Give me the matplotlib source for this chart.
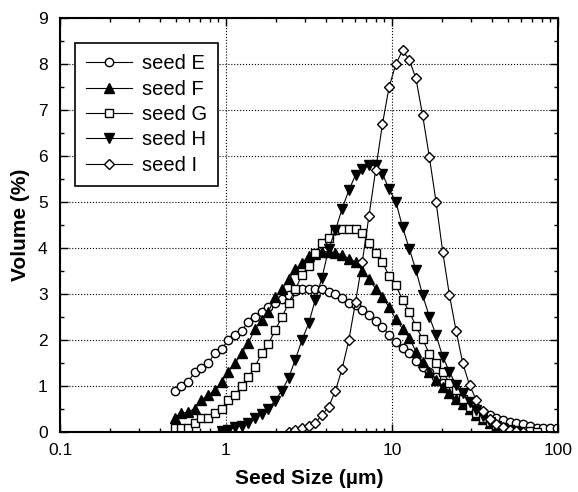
import numpy as np
import matplotlib.pyplot as plt
from matplotlib.ticker import FixedLocator, NullFormatter, MultipleLocator

plt.rcParams['font.family'] = ['Liberation Sans', 'DejaVu Sans']

# tamaños de partícula (µm), rejilla común del analizador
size_bins = [0.490, 0.538, 0.590, 0.648, 0.711, 0.780, 0.856, 0.940, 1.031, 1.132,
             1.242, 1.363, 1.496, 1.642, 1.802, 1.978, 2.171, 2.382, 2.615, 2.870,
             3.149, 3.456, 3.793, 4.163, 4.569, 5.015, 5.504, 6.040, 6.629, 7.276,
             7.985, 8.764, 9.618, 10.56, 11.59, 12.72, 13.96, 15.32, 16.81, 18.45,
             20.25, 22.22, 24.39, 26.77, 29.38, 32.24, 35.39, 38.84, 42.62, 46.78,
             51.34, 56.35, 61.84, 67.87, 74.49, 81.75, 89.72, 98.47]

# volumen (%) de cada semilla, con el índice del primer bin
seed_E_start = 0
seed_E = [0.90, 1.00, 1.09, 1.30, 1.40, 1.49, 1.71, 1.80, 2.00, 2.11,
          2.20, 2.40, 2.51, 2.62, 2.71, 2.80, 2.89, 2.98, 3.07, 3.10,
          3.10, 3.10, 3.10, 3.05, 3.00, 2.91, 2.81, 2.76, 2.65, 2.54,
          2.42, 2.29, 2.11, 1.95, 1.82, 1.72, 1.55, 1.42, 1.31, 1.20,
          1.07, 0.91, 0.77, 0.66, 0.60, 0.51, 0.44, 0.37, 0.30, 0.26,
          0.22, 0.20, 0.17, 0.12, 0.09, 0.09, 0.09, 0.09]

seed_F_start = 0
seed_F = [0.30, 0.41, 0.43, 0.51, 0.70, 0.80, 0.91, 1.09, 1.31, 1.49,
          1.71, 1.93, 2.25, 2.43, 2.62, 2.93, 3.10, 3.32, 3.54, 3.68,
          3.82, 3.88, 3.92, 3.92, 3.90, 3.85, 3.77, 3.70, 3.51, 3.32,
          3.12, 2.93, 2.72, 2.45, 2.25, 2.05, 1.75, 1.53, 1.31, 1.13,
          0.98, 0.84, 0.72, 0.60, 0.49, 0.38, 0.28, 0.19, 0.11, 0.05,
          0.02, 0.0]

seed_G_start = 0
seed_G = [0.09, 0.09, 0.09, 0.19, 0.30, 0.30, 0.41, 0.49, 0.70, 0.80,
          1.00, 1.20, 1.42, 1.71, 1.91, 2.22, 2.49, 2.80, 3.10, 3.41,
          3.61, 3.90, 4.10, 4.21, 4.39, 4.41, 4.41, 4.41, 4.32, 4.10,
          3.90, 3.70, 3.39, 3.19, 2.88, 2.62, 2.30, 2.02, 1.70, 1.49,
          1.31, 1.07, 0.91, 0.71, 0.55, 0.42, 0.30, 0.21, 0.15, 0.10,
          0.06, 0.04, 0.03, 0.02, 0.0]

seed_H_start = 7
seed_H = [0.02, 0.05, 0.10, 0.14, 0.20, 0.30, 0.40, 0.51, 0.68, 0.90,
          1.17, 1.57, 2.00, 2.36, 2.88, 3.36, 3.99, 4.39, 4.86, 5.26,
          5.59, 5.72, 5.80, 5.80, 5.62, 5.28, 5.01, 4.46, 3.99, 3.52,
          2.98, 2.51, 2.11, 1.64, 1.31, 1.02, 0.84, 0.65, 0.48, 0.35,
          0.22, 0.13, 0.06, 0.02, 0.0]

seed_I_start = 17
seed_I = [0.0, 0.04, 0.08, 0.12, 0.20, 0.37, 0.55, 0.90, 1.38, 2.00,
          2.83, 3.70, 4.70, 5.70, 6.69, 7.50, 8.00, 8.30, 8.10, 7.69,
          6.89, 5.99, 5.01, 3.92, 2.98, 2.20, 1.49, 1.02, 0.70, 0.45,
          0.28, 0.17, 0.10, 0.05, 0.02, 0.0]

series = [
    ('seed E', seed_E_start, seed_E, 'o', 'white', 6.0),
    ('seed F', seed_F_start, seed_F, '^', 'black', 7.0),
    ('seed G', seed_G_start, seed_G, 's', 'white', 5.5),
    ('seed H', seed_H_start, seed_H, 'v', 'black', 7.0),
    ('seed I', seed_I_start, seed_I, 'D', 'white', 5.5),
]

fig = plt.figure(figsize=(5.78, 4.92), dpi=100)
ax = fig.add_axes([0.104, 0.122, 0.861, 0.841])

for name, start, vals, mk, fc, ms in series:
    x = size_bins[start:start + len(vals)]
    ax.plot(x, vals, color='black', lw=0.8, marker=mk, markersize=ms,
            markerfacecolor=fc, markeredgecolor='black', markeredgewidth=1.0,
            label=name)

ax.set_xscale('log')
ax.set_xlim(0.1, 100)
ax.set_ylim(0, 9)
ax.xaxis.set_major_locator(FixedLocator([0.1, 1, 10, 100]))
ax.set_xticklabels(['0.1', '1', '10', '100'])
ax.xaxis.set_minor_formatter(NullFormatter())
ax.yaxis.set_major_locator(MultipleLocator(1))
ax.yaxis.set_minor_locator(MultipleLocator(0.5))

ax.tick_params(which='both', direction='in', top=True, right=True, labelsize=12.5)
ax.tick_params(which='major', length=6, width=1.0)
ax.tick_params(which='minor', length=3, width=1.0)
ax.tick_params(axis='x', which='major', pad=8)
ax.tick_params(axis='y', which='major', pad=9)
for s in ax.spines.values():
    s.set_linewidth(1.5)

ax.grid(True, which='major', linestyle=':', color='black', linewidth=0.8)

ax.set_xlabel('Seed Size (µm)', fontsize=15, fontweight='bold', labelpad=8)
ax.set_ylabel('Volume (%)', fontsize=15, fontweight='bold', labelpad=6)

leg = ax.legend(loc='upper left', bbox_to_anchor=(0.03, 0.94), fontsize=14.5,
                frameon=True, fancybox=False, handlelength=2.3,
                borderpad=0.55, labelspacing=0.32, handletextpad=0.45,
                borderaxespad=0)
leg.get_frame().set_edgecolor('black')
leg.get_frame().set_linewidth(1.2)
leg.get_frame().set_alpha(1)

fig.savefig('out.png', dpi=100)
